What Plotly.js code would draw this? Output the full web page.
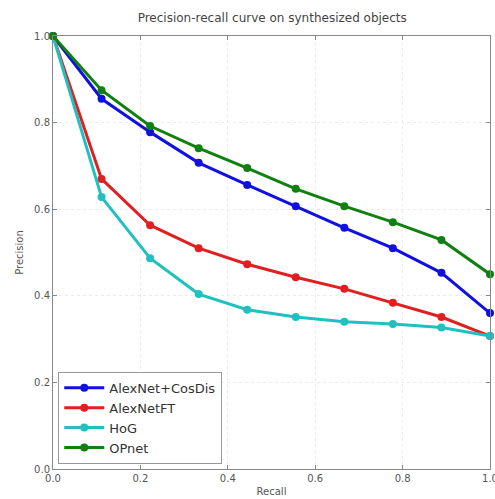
<!DOCTYPE html>
<html>
<head>
<meta charset="utf-8">
<script src="https://cdn.plot.ly/plotly-3.0.1.min.js"></script>
<style>html,body{margin:0;padding:0;background:#fff;}#chart{width:495px;height:499px;}</style>
</head>
<body>
<div id="chart"></div>
<script>
const recall = [0, 1/9, 2/9, 3/9, 4/9, 5/9, 6/9, 7/9, 8/9, 1];
const alexnetCosDis = [1.0, 0.855, 0.778, 0.707, 0.656, 0.607, 0.557, 0.510, 0.453, 0.360];
const alexnetFT = [1.0, 0.670, 0.563, 0.510, 0.473, 0.443, 0.416, 0.384, 0.351, 0.307];
const hog = [1.0, 0.628, 0.487, 0.404, 0.368, 0.351, 0.340, 0.335, 0.327, 0.307];
const opnet = [1.0, 0.875, 0.792, 0.741, 0.695, 0.647, 0.607, 0.570, 0.529, 0.450];
const seriesNames = ["AlexNet+CosDis", "AlexNetFT", "HoG", "OPnet"];
const seriesColors = ["#1010e0", "#e02020", "#20c0c0", "#108010"];
const xTicks = [0, 0.2, 0.4, 0.6, 0.8, 1.0];
const xTickText = ["0.0", "0.2", "0.4", "0.6", "0.8", "1.0"];
const yTicks = [0, 0.2, 0.4, 0.6, 0.8, 1.0];
const yTickText = ["0.0", "0.2", "0.4", "0.6", "0.8", "1.0"];

const allY = [alexnetCosDis, alexnetFT, hog, opnet];
const traces = allY.map((ys, i) => ({
  x: recall, y: ys, name: seriesNames[i], type: "scatter", mode: "lines+markers",
  line: {color: seriesColors[i], width: 3},
  marker: {color: seriesColors[i], size: 8},
  cliponaxis: false
}));

const axisCommon = {
  showline: true, linecolor: "#888", linewidth: 1, mirror: "ticks",
  ticks: "inside", ticklen: 4, tickcolor: "#888",
  showgrid: true, gridcolor: "#ececec", gridwidth: 1, griddash: "dot",
  zeroline: false, ticklabeloverflow: "allow",
  tickfont: {family: "DejaVu Sans", size: 10, color: "#555"}
};

const layout = {
  width: 495, height: 499,
  margin: {l: 53, r: 5, t: 36, b: 30},
  paper_bgcolor: "#fff", plot_bgcolor: "#fff",
  title: {text: "Precision-recall curve on synthesized objects", x: 0.55, xanchor: "center", y: 0.965, yanchor: "middle",
    font: {family: "DejaVu Sans", size: 12, color: "#444"}},
  xaxis: Object.assign({}, axisCommon, {range: [0, 1], tickvals: xTicks, ticktext: xTickText,
    title: {text: "Recall", standoff: 4, font: {family: "DejaVu Sans", size: 10, color: "#555"}}}),
  yaxis: Object.assign({}, axisCommon, {range: [0, 1], tickvals: yTicks, ticktext: yTickText,
    title: {text: "Precision", standoff: 8, font: {family: "DejaVu Sans", size: 10, color: "#555"}}}),
  showlegend: true,
  legend: {x: 0.012, y: 0.012, xanchor: "left", yanchor: "bottom", bgcolor: "#fff",
    bordercolor: "#999", borderwidth: 1, font: {family: "DejaVu Sans", size: 13, color: "#333"},
    itemwidth: 40, tracegroupgap: 2}
};

Plotly.newPlot("chart", traces, layout, {displayModeBar: false, staticPlot: true});
</script>
</body>
</html>
